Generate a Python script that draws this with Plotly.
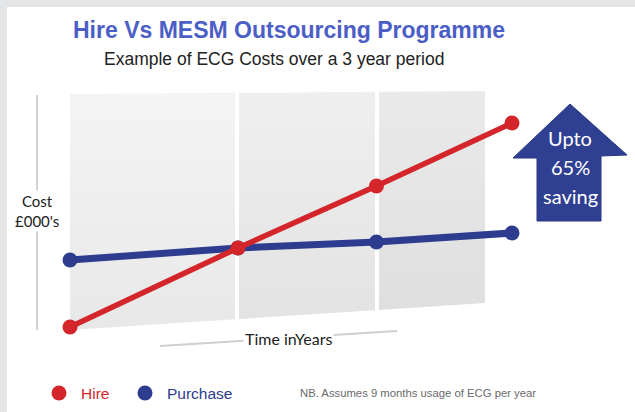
import plotly.graph_objects as go

# ---- data ----
years = [0, 1.14, 2.08, 3.0]          # time position of each point
hire = [0.3, 8.2, 14.4, 20.7]          # cost (arbitrary £000's units)
purchase = [7.0, 8.2, 8.8, 9.7]
series_names = ["Hire", "Purchase"]
series_colors = ["#d3252a", "#2e3c8f"]

title_text = "Hire Vs MESM Outsourcing Programme"
subtitle_text = "Example of ECG Costs over a 3 year period"
note_text = "NB. Assumes 9 months usage of ECG per year"
arrow_text = ["Upto", "65%", "saving"]

W, H = 635, 412

# helper: convert canvas pixels to axis units (decorations only)
def X(px):
    return (px - 70) / 147.33

def Y(py):
    return (330 - py) / 10.0

def top(px):
    return 94 - 3 * (px - 70) / 415

def bot(px):
    return 330 - 27 * (px - 70) / 415

fig = go.Figure()

# background panel columns with gradient
cols = [(70, 235, "#f4f4f4", "#e8e8e8"), (239, 375, "#efefef", "#e3e3e3"), (379, 485, "#eaeaea", "#dfdfdf")]
for l, r, c_top, c_bot in cols:
    fig.add_trace(go.Scatter(
        x=[X(l), X(r), X(r), X(l), X(l)],
        y=[Y(top(l)), Y(top(r)), Y(bot(r)), Y(bot(l)), Y(top(l))],
        mode="lines", line=dict(width=0), fill="toself",
        fillcolor=c_top,
        fillgradient=dict(type="vertical", colorscale=[[0, c_bot], [1, c_top]]),
        hoverinfo="skip", showlegend=False))

# data lines (purchase below hire)
fig.add_trace(go.Scatter(x=years, y=purchase, mode="lines+markers",
                         line=dict(color=series_colors[1], width=7),
                         marker=dict(size=15, color=series_colors[1]),
                         name=series_names[1], showlegend=False))
fig.add_trace(go.Scatter(x=years, y=hire, mode="lines+markers",
                         line=dict(color=series_colors[0], width=5.5),
                         marker=dict(size=15, color=series_colors[0]),
                         name=series_names[0], showlegend=False))

shapes = []
# outer grey frame
shapes.append(dict(type="rect", xref="paper", yref="paper", x0=0, x1=7 / W, y0=0, y1=1,
                   fillcolor="#e4e5e7", line=dict(width=0), layer="above"))
shapes.append(dict(type="rect", xref="paper", yref="paper", x0=0, x1=1, y0=1 - 7 / H, y1=1,
                   fillcolor="#e4e5e7", line=dict(width=0), layer="above"))
# y axis line
shapes.append(dict(type="line", x0=X(37), x1=X(37), y0=Y(95), y1=Y(330),
                   line=dict(color="#c4c4c4", width=1.5), layer="below"))
# x axis line
shapes.append(dict(type="line", x0=X(160), x1=X(397), y0=Y(346), y1=Y(331),
                   line=dict(color="#cfcfcf", width=2), layer="below"))
# arrow
pts = [(570, 104), (627, 155), (601, 156), (601, 221), (537, 221), (537, 158), (513, 158)]
path = "M " + " L ".join(f"{X(px):.4f},{Y(py):.4f}" for px, py in pts) + " Z"
shapes.append(dict(type="path", path=path, fillcolor="#2f3f92",
                   line=dict(color="#283783", width=1), layer="above"))

annotations = []
# custom legend
for name, col, cx in zip(series_names, series_colors, [59, 145]):
    shapes.append(dict(type="circle", xref="paper", yref="paper",
                       x0=(cx - 7.5) / W, x1=(cx + 7.5) / W,
                       y0=1 - (393 + 7.5) / H, y1=1 - (393 - 7.5) / H,
                       fillcolor=col, line=dict(width=0)))
    annotations.append(dict(x=(cx + 20) / W, y=1 - 393 / H, xref="paper", yref="paper",
                            text=name, showarrow=False, xanchor="left", yanchor="middle",
                            font=dict(family="Liberation Sans, Arial, sans-serif", size=15.5, color=col)))

annotations.append(dict(x=274 / W, y=1 - 59 / H, xref="paper", yref="paper",
                        text=subtitle_text, showarrow=False, xanchor="center", yanchor="middle",
                        font=dict(family="Liberation Sans, Arial, sans-serif", size=17.5, color="#222222")))
annotations.append(dict(x=X(37), y=Y(211), text="Cost<br>£000's", showarrow=False,
                        xanchor="center", yanchor="middle", bgcolor="white",
                        font=dict(family="Lato, sans-serif", size=15, color="#222222")))
annotations.append(dict(x=X(288), y=Y(338), text="Time inYears", showarrow=False,
                        xanchor="center", yanchor="middle", bgcolor="white",
                        font=dict(family="Lato, sans-serif", size=16, color="#222222")))
for t, py in zip(arrow_text, [138, 167, 196]):
    annotations.append(dict(x=X(570), y=Y(py), text=t, showarrow=False,
                            xanchor="center", yanchor="middle",
                            font=dict(family="Lato, sans-serif", size=20, color="white")))
annotations.append(dict(x=298 / W, y=1 - 393 / H, xref="paper", yref="paper", text=note_text,
                        showarrow=False, xanchor="left", yanchor="middle",
                        font=dict(family="Liberation Sans, Arial, sans-serif",
                                  size=11.3, color="#6a6a6a")))

fig.update_layout(
    width=W, height=H,
    margin=dict(l=0, r=0, t=0, b=0),
    paper_bgcolor="white", plot_bgcolor="rgba(0,0,0,0)",
    xaxis=dict(visible=False, range=[X(0), X(W)], fixedrange=True),
    yaxis=dict(visible=False, range=[Y(H), Y(0)], fixedrange=True),
    title=dict(text=title_text, x=289 / W, xanchor="center", y=1 - 30 / H, yanchor="middle",
               font=dict(family="Liberation Sans, Arial, sans-serif", size=23, color="#4b5ec6",
                         weight="bold")),
    showlegend=False,
    shapes=shapes, annotations=annotations,
)

fig.write_html("out.html", config={"displayModeBar": False},
               post_script="document.body.style.margin='0';document.body.style.padding='0';")
